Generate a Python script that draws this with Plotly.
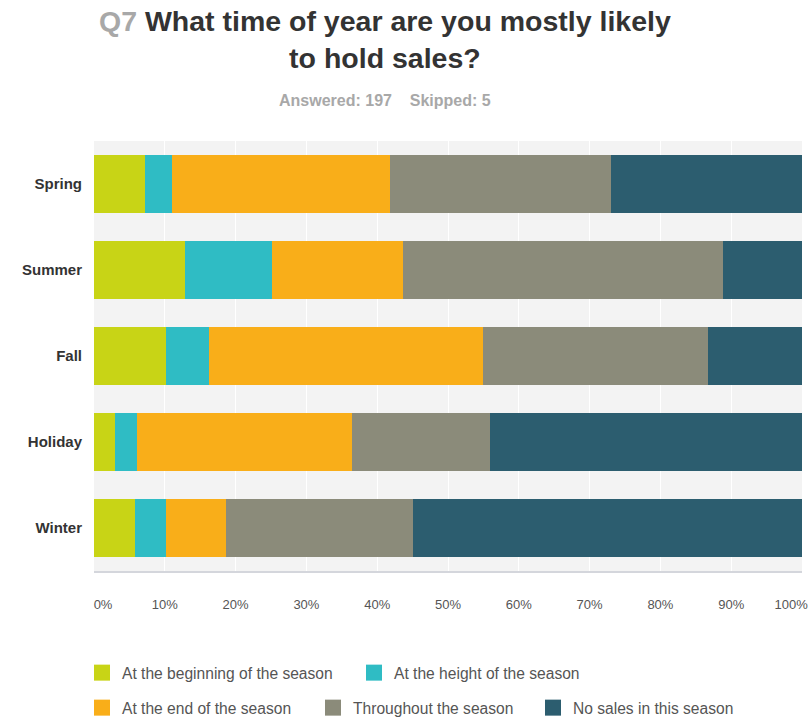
import plotly.graph_objects as go

# Survey question: share of respondents by season and timing of sales (%)
seasons = ["Spring", "Summer", "Fall", "Holiday", "Winter"]
answers = [
    "At the beginning of the season",
    "At the height of the season",
    "At the end of the season",
    "Throughout the season",
    "No sales in this season",
]
beginning = [7.2, 12.8, 10.1, 2.9, 5.8]
height = [3.8, 12.4, 6.1, 3.2, 4.3]
end = [30.8, 18.5, 38.7, 30.4, 8.6]
throughout = [31.2, 45.2, 31.8, 19.4, 26.4]
no_sales = [27.0, 11.1, 13.3, 44.1, 54.9]
tick_vals = [0, 10, 20, 30, 40, 50, 60, 70, 80, 90, 100]
tick_text = ["\u00a0\u00a0\u00a0\u00a0\u00a00%", "10%", "20%", "30%", "40%", "50%",
             "60%", "70%", "80%", "90%",
             "100%\u00a0\u00a0\u00a0\u00a0\u00a0\u00a0\u200b"]

series = [beginning, height, end, throughout, no_sales]
colors = ["#c8d416", "#2fbcc4", "#f9ae19", "#8b8b7a", "#2c5d6f"]

# one legend box per answer, laid out in two rows below the axis
legend_boxes = [
    (82, 673), (354, 673),
    (82, 708), (313, 708), (533, 708),
]

W, H = 810, 719
fig = go.Figure()
for i, (name, vals, col) in enumerate(zip(answers, series, colors)):
    lg = "legend" if i == 0 else f"legend{i + 1}"
    fig.add_trace(go.Bar(
        y=seasons, x=vals, name=name, orientation="h",
        marker=dict(color=col, line=dict(width=0)),
        legendgroup=name, showlegend=False,
    ))
    # square legend key for the answer
    fig.add_trace(go.Scatter(
        x=[None], y=[None], mode="markers", name=name,
        marker=dict(symbol="square", size=16, color=col),
        legendgroup=name, legend=lg, hoverinfo="skip",
    ))

legends = {}
for i, (lx, ly) in enumerate(legend_boxes):
    key = "legend" if i == 0 else f"legend{i + 1}"
    legends[key] = dict(
        orientation="h", xref="container", yref="container",
        x=lx / W, y=1 - ly / H, xanchor="left", yanchor="middle",
        font=dict(size=15.6, color="#555"), bgcolor="rgba(0,0,0,0)",
        itemclick=False, itemdoubleclick=False,
    )

fig.update_layout(
    width=W, height=H,
    barmode="stack", bargap=0.337,
    paper_bgcolor="white", plot_bgcolor="#f3f3f3",
    margin=dict(l=94, r=8, t=141, b=148, autoexpand=False),
    font=dict(family="Liberation Sans, Arial, sans-serif", color="#444"),
    annotations=[
        dict(
            text="<span style='color:#a8a8a8'>Q7</span> What time of year are you mostly likely<br>to hold sales?",
            xref="paper", yref="paper",
            x=(385 - 94) / (W - 102), y=1 + (141 - 40) / 430,
            xanchor="center", yanchor="middle", showarrow=False,
            font=dict(size=28.5, color="#333333", weight="bold"),
        ),
        dict(
            text="Answered: 197&nbsp;&nbsp;&nbsp;&nbsp;Skipped: 5",
            xref="paper", yref="paper",
            x=(385 - 94) / (W - 102), y=1 + (141 - 100) / 430,
            xanchor="center", yanchor="middle", showarrow=False,
            font=dict(size=16, color="#a8a8a8", weight="bold"),
        ),
    ],
    xaxis=dict(
        range=[0, 100], tickvals=tick_vals, ticktext=tick_text,
        showgrid=True, gridcolor="white", gridwidth=1,
        showline=True, linecolor="#d4d6dc", linewidth=2,
        zeroline=False, ticks="", ticklabelstandoff=20,
        ticklabeloverflow="allow",
        tickfont=dict(size=13, color="#555"),
        fixedrange=True, automargin=False,
    ),
    yaxis=dict(
        categoryorder="array", categoryarray=seasons[::-1],
        showgrid=False, zeroline=False, ticks="", ticklabelstandoff=11,
        tickfont=dict(size=15, color="#333", weight="bold"),
        fixedrange=True, automargin=False,
    ),
    **legends,
)

fig.write_html("out.html")
